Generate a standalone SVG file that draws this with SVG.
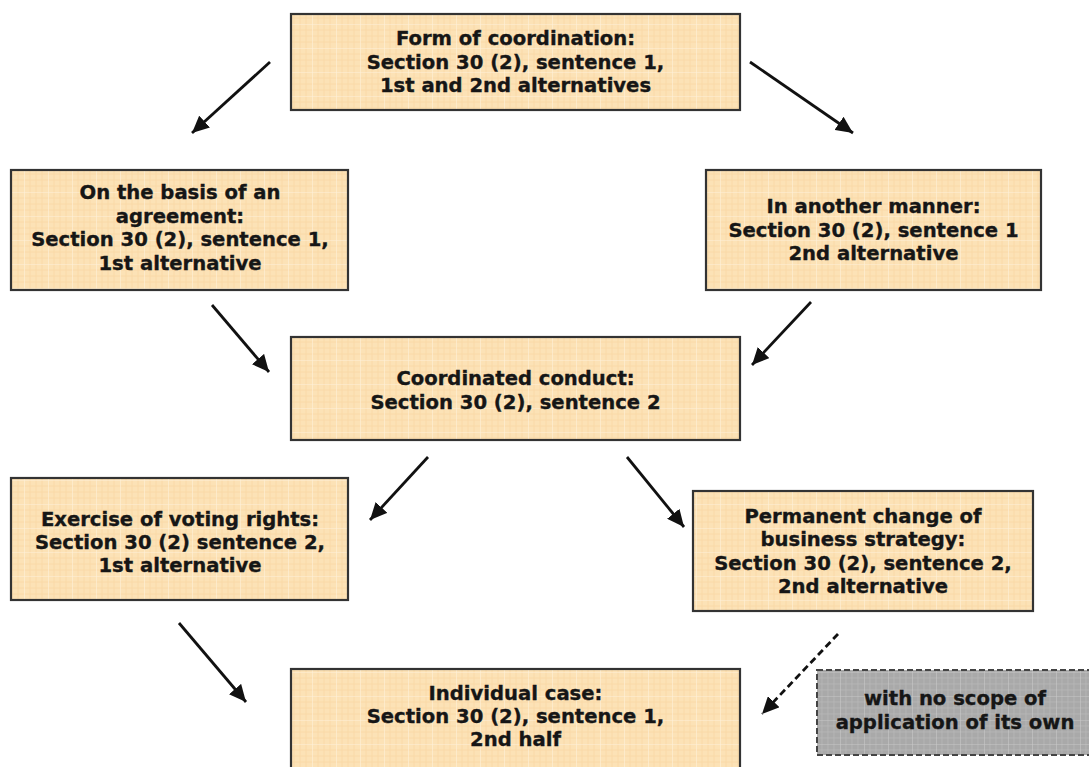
<svg xmlns="http://www.w3.org/2000/svg" width="1089" height="767" viewBox="0 0 1089 767">
<defs>
<pattern id="grid" width="24" height="24" patternUnits="userSpaceOnUse">
<rect width="24" height="24" fill="#FCE2B6"/>
<path d="M6 0V24M12 0V24M18 0V24M0 6H24M0 12H24M0 18H24" stroke="#F7D39C" stroke-width="0.8" opacity="0.7"/>
<path d="M0 0V24M0 0H24" stroke="#FFF1DA" stroke-width="1.2"/>
</pattern>
<pattern id="ggrid" width="24" height="24" patternUnits="userSpaceOnUse">
<rect width="24" height="24" fill="#A9A9A9"/>
<path d="M6 0V24M12 0V24M18 0V24M0 6H24M0 12H24M0 18H24" stroke="#B8B8B8" stroke-width="0.8"/>
<path d="M0 0V24M0 0H24" stroke="#C8C8C8" stroke-width="1.2"/>
</pattern>
<marker id="ah" markerUnits="userSpaceOnUse" markerWidth="18" markerHeight="16" refX="17" refY="8" orient="auto">
<path d="M0 0L17 8L0 16z" fill="#111"/>
</marker>
</defs>
<style>
.box{fill:url(#grid);stroke:#333;stroke-width:2.2}
.gbox{fill:url(#ggrid);stroke:#444;stroke-width:2;stroke-dasharray:6 3}
text{font-family:"DejaVu Sans",Verdana,sans-serif;font-weight:bold;font-size:19.6px;fill:#161616;stroke:#161616;stroke-width:0.35;text-anchor:middle}
.c line{stroke:#111;stroke-width:2.8;marker-end:url(#ah)}
.c line.d{stroke-dasharray:7 4}
</style>
<rect width="1089" height="767" fill="#fff"/>
<g class="c" id="connectors">
<line x1="270" y1="62" x2="192" y2="133"/>
<line x1="750" y1="62" x2="853" y2="133"/>
<line x1="212" y1="305" x2="269" y2="372"/>
<line x1="811" y1="302" x2="752" y2="365"/>
<line x1="428" y1="457" x2="370" y2="520"/>
<line x1="627" y1="457" x2="684" y2="527"/>
<line x1="179" y1="623" x2="246" y2="702"/>
<line class="d" x1="838" y1="634" x2="762" y2="714"/>
</g>
<g id="n-form">
<rect class="box" x="291" y="14" width="449" height="96"/>
<text x="515.5" y="45">Form of coordination:</text>
<text x="515.5" y="68.5">Section 30 (2), sentence 1,</text>
<text x="515.5" y="92">1st and 2nd alternatives</text>
</g>
<g id="n-agreement">
<rect class="box" x="11" y="170" width="337" height="120"/>
<text x="180" y="199">On the basis of an</text>
<text x="180" y="222.5">agreement:</text>
<text x="180" y="246">Section 30 (2), sentence 1,</text>
<text x="180" y="269.5">1st alternative</text>
</g>
<g id="n-manner">
<rect class="box" x="706" y="170" width="335" height="120"/>
<text x="873.5" y="213">In another manner:</text>
<text x="873.5" y="236.5">Section 30 (2), sentence 1</text>
<text x="873.5" y="260">2nd alternative</text>
</g>
<g id="n-conduct">
<rect class="box" x="291" y="337" width="449" height="103"/>
<text x="515.5" y="385">Coordinated conduct:</text>
<text x="515.5" y="408.5">Section 30 (2), sentence 2</text>
</g>
<g id="n-voting">
<rect class="box" x="11" y="478" width="337" height="122"/>
<text x="180" y="526">Exercise of voting rights:</text>
<text x="180" y="549">Section 30 (2) sentence 2,</text>
<text x="180" y="572">1st alternative</text>
</g>
<g id="n-strategy">
<rect class="box" x="693" y="491" width="340" height="120"/>
<text x="863" y="523">Permanent change of</text>
<text x="863" y="546">business strategy:</text>
<text x="863" y="570">Section 30 (2), sentence 2,</text>
<text x="863" y="593">2nd alternative</text>
</g>
<g id="n-individual">
<rect class="box" x="291" y="669" width="449" height="110"/>
<text x="515.5" y="700">Individual case:</text>
<text x="515.5" y="723">Section 30 (2), sentence 1,</text>
<text x="515.5" y="746">2nd half</text>
</g>
<g id="n-noscope">
<rect class="gbox" x="817" y="670" width="280" height="85"/>
<text x="955" y="705">with no scope of</text>
<text x="955" y="729">application of its own</text>
</g>
</svg>
